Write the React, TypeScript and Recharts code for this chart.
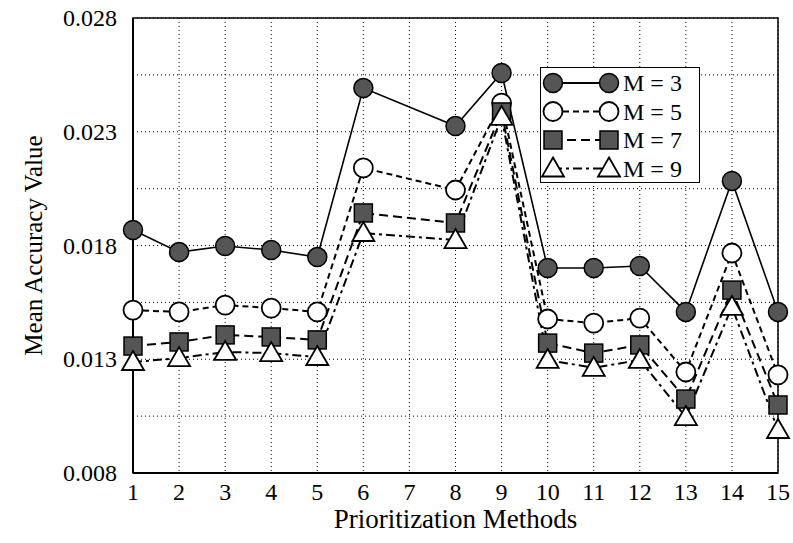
import React from 'react';
import { LineChart, Line, XAxis, YAxis, CartesianGrid, ReferenceArea } from 'recharts';

const methods = [1, 2, 3, 4, 5, 6, 8, 9, 10, 11, 12, 13, 14, 15];
const m3 = [0.01868, 0.01771, 0.01798, 0.0178, 0.01749, 0.02492, 0.02325, 0.02558, 0.01701, 0.01701, 0.0171, 0.01508, 0.02084, 0.01508];
const m5 = [0.01516, 0.01508, 0.01538, 0.01525, 0.01508, 0.02141, 0.02044, 0.02426, 0.01477, 0.01459, 0.01481, 0.01244, 0.01767, 0.01231];
const m7 = [0.01358, 0.01376, 0.01407, 0.01398, 0.01385, 0.01943, 0.01899, 0.02387, 0.01371, 0.01327, 0.01363, 0.01125, 0.01604, 0.01099];
const m9 = [0.01288, 0.01305, 0.01332, 0.01327, 0.0131, 0.01855, 0.01824, 0.02365, 0.01297, 0.01262, 0.01297, 0.01046, 0.0153, 0.00989];

const xTicks = [1, 2, 3, 4, 5, 6, 7, 8, 9, 10, 11, 12, 13, 14, 15];
const yMajorTicks = [0.008, 0.013, 0.018, 0.023, 0.028];
const yMinorTicks = [0.0105, 0.0155, 0.0205, 0.0255];
const yTicks = [...yMajorTicks, ...yMinorTicks].sort((a, b) => a - b);

const seriesNames = ['M = 3', 'M = 5', 'M = 7', 'M = 9'];
const xTitle = 'Prioritization Methods';
const yTitle = 'Mean Accuracy Value';

const data = methods.map((m, i) => ({ method: m, m3: m3[i], m5: m5[i], m7: m7[i], m9: m9[i] }));

const FONT = '"Liberation Serif", "Times New Roman", serif';
const DARK = '#555';
const TICK_SIZE = 24;

type Shape = 'circle' | 'open' | 'square' | 'triangle';

function Marker({ shape, cx, cy }: { shape: Shape; cx: number; cy: number }) {
  if (shape === 'circle') return <circle cx={cx} cy={cy} r={9.5} fill={DARK} stroke="#000" strokeWidth={1.5} />;
  if (shape === 'open') return <circle cx={cx} cy={cy} r={9.5} fill="#fff" stroke="#000" strokeWidth={1.8} />;
  if (shape === 'square') return <rect x={cx - 9} y={cy - 9} width={18} height={18} fill={DARK} stroke="#000" strokeWidth={1.5} />;
  return <polygon points={`${cx},${cy - 11} ${cx + 11},${cy + 8} ${cx - 11},${cy + 8}`} fill="#fff" stroke="#000" strokeWidth={1.8} />;
}

const makeDot = (shape: Shape) => (props: any) => {
  const { cx, cy, index } = props;
  if (cx == null || cy == null) return <g key={index} />;
  return <g key={index}><Marker shape={shape} cx={cx} cy={cy} /></g>;
};

const shapes: Shape[] = ['circle', 'open', 'square', 'triangle'];
const dashes = [undefined, '6 4', '9 5', '9 4 3 4'];

function XTick(props: any) {
  const { x, y, payload } = props;
  return (
    <text x={x} y={y + 21} textAnchor="middle" fontFamily={FONT} fontSize={TICK_SIZE} fill="#000">
      {String(payload.value)}
    </text>
  );
}

function YTick(props: any) {
  const { x, y, payload } = props;
  const major = yMajorTicks.some(t => Math.abs(t - payload.value) < 1e-9);
  if (!major) return <g />;
  return (
    <text x={x - 2} y={y + 8} textAnchor="end" fontFamily={FONT} fontSize={TICK_SIZE} fill="#000">
      {payload.value.toFixed(3)}
    </text>
  );
}

function XTitle(props: any) {
  const vb = props.viewBox || { x: 0, y: 0, width: 0, height: 0 };
  const cx = vb.x + vb.width / 2;
  return <text x={cx} y={vb.y + vb.height - 15} textAnchor="middle" fontFamily={FONT} fontSize={27} fill="#000">{xTitle}</text>;
}

function YTitle(props: any) {
  const vb = props.viewBox || { x: 0, y: 0, width: 0, height: 0 };
  const cx = vb.x + 33;
  const cy = vb.y + vb.height / 2;
  return (
    <text x={cx} y={cy} transform={`rotate(-90 ${cx} ${cy})`} textAnchor="middle" dominantBaseline="central" fontFamily={FONT} fontSize={25} fill="#000">
      {yTitle}
    </text>
  );
}

function LegendBox() {
  return (
    <div style={{ position: 'absolute', left: 540, top: 67, width: 160, height: 116, border: '1.5px solid #000', background: '#fff', boxSizing: 'border-box' }}>
      <svg width={158} height={114}>
        {seriesNames.map((name, i) => {
          const y = 15 + i * 28.5;
          return (
            <g key={name}>
              <line x1={12} x2={68} y1={y} y2={y} stroke="#000" strokeWidth={1.8} strokeDasharray={dashes[i]} />
              <Marker shape={shapes[i]} cx={12} cy={y} />
              <Marker shape={shapes[i]} cx={68} cy={y} />
              <text x={82} y={y + 8} fontFamily={FONT} fontSize={24} fill="#000">{name}</text>
            </g>
          );
        })}
      </svg>
    </div>
  );
}

export default function App() {
  const keys = ['m3', 'm5', 'm7', 'm9'];
  return (
    <div style={{ position: 'absolute', left: 0, top: 0, width: 793, height: 543, fontFamily: FONT }}>
      <LineChart width={793} height={543} data={data} margin={{ top: 18, right: 15, bottom: 0, left: 0 }} style={{ fontFamily: FONT }}>
        <CartesianGrid stroke="#000" strokeDasharray="1 3" strokeWidth={1} />
        <XAxis
          dataKey="method"
          type="number"
          domain={[1, 15]}
          ticks={xTicks}
          interval={0}
          tickLine={false}
          axisLine={{ stroke: '#000', strokeWidth: 2 }}
          tick={<XTick />}
          tickMargin={0}
          height={70}
          label={<XTitle />}
        />
        <YAxis
          type="number"
          domain={[0.008, 0.028]}
          ticks={yTicks}
          interval={0}
          tickLine={false}
          axisLine={{ stroke: '#000', strokeWidth: 2 }}
          tick={<YTick />}
          tickMargin={8}
          width={133}
          label={<YTitle />}
        />
        <ReferenceArea x1={1} x2={15} y1={0.008} y2={0.028} fill="none" fillOpacity={0} stroke="#000" strokeWidth={1.5} />
        {keys.map((k, i) => (
          <Line
            key={k}
            dataKey={k}
            name={seriesNames[i]}
            type="linear"
            stroke="#000"
            strokeWidth={i === 0 ? 1.6 : 2}
            strokeDasharray={dashes[i]}
            dot={makeDot(shapes[i])}
            activeDot={false}
            isAnimationActive={false}
          />
        ))}
      </LineChart>
      <LegendBox />
    </div>
  );
}
